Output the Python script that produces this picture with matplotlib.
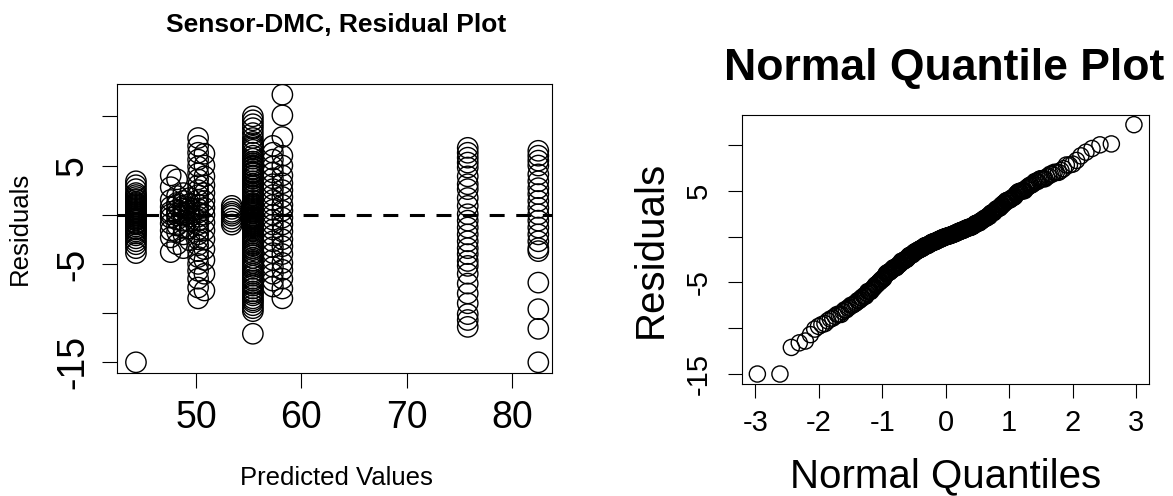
import matplotlib
matplotlib.use("Agg")
import matplotlib.pyplot as plt
import numpy as np
from statistics import NormalDist

plt.rcParams['font.family'] = ['Liberation Sans', 'DejaVu Sans']
plt.rcParams['axes.unicode_minus'] = True

# Residuals of the Sensor-DMC model, grouped by fitted (predicted) value
fit_44 = 44.3
res_44 = [3.4, 3.0, 2.6, 2.2, 2.0, 1.8, 1.6, 1.5, 1.3, 1.2, 1.1, 1.0, 0.9, 0.8,
          0.7, 0.6, 0.5, 0.4, 0.3, 0.25, 0.2, 0.1, 0.0, -0.1, -0.2, -0.3, -0.4,
          -0.5, -0.6, -0.8, -0.9, -1.0, -1.2, -1.4, -1.5, -1.7, -1.9, -2.1,
          -2.4, -2.7, -3.0, -3.4, -3.9, -15.0]
fit_47 = 47.6
res_47 = [4.0, 2.8, 1.5, 0.8, 0.3, 0.05, -0.3, -0.9, -1.6, -2.3, -3.8]
fit_48a = 48.2
res_48a = [3.6, 1.9, 1.2, 1.0, 0.5, 0.15, -0.05, -0.5, -1.1, -1.75, -3.0]
fit_48b = 48.8
res_48b = [2.2, 1.4, 0.9, 0.6, 0.2, -0.1, -0.6, -1.3, -2.0, -3.4]
fit_49 = 49.4
res_49 = [1.7, 1.1, 0.7, 0.4, 0.1, -0.2, -0.7, -1.4, -2.6]
fit_50a = 50.2
res_50a = [7.8, 7.0, 6.3, 5.6, 4.9, 4.2, 3.6, 3.0, 2.5, 2.0, 1.5, 1.0, 0.6,
           0.2, -0.2, -0.6, -1.0, -1.5, -2.0, -2.5, -3.1, -3.7, -4.3, -5.0,
           -5.7, -6.5, -7.4, -8.5]
fit_50b = 50.8
res_50b = [6.2, 5.0, 3.9, 3.0, 2.2, 1.4, 0.7, 0.0, -0.8, -1.6, -2.5, -3.5,
           -4.6, -6.0, -7.7]
fit_53 = 53.4
res_53 = [0.9, 0.6, 0.3, 0.1, -0.1, -0.4, -0.7, -1.0]
fit_55 = 55.4
res_55 = [10.0, 9.6, 9.2, 8.8, 8.3, 7.8, 7.4, 7.2, 7.0, 6.8, 6.6, 6.3, 6.0,
          5.7, 5.4, 5.2, 5.0, 4.9, 4.7, 4.6, 4.4, 4.3, 4.2, 4.0, 3.9, 3.7,
          3.4, 3.1, 2.9, 2.6, 2.4, 2.2, 2.0, 1.9, 1.7, 1.5, 1.4, 1.2, 1.1,
          1.0, 0.9, 0.8, 0.7, 0.6, 0.5, 0.4, 0.3, 0.2, 0.1, -0.05, -0.1,
          -0.2, -0.3, -0.35, -0.4, -0.5, -0.6, -0.7, -0.8, -0.9, -1.0, -1.1,
          -1.2, -1.3, -1.4, -1.55, -1.7, -1.9, -2.1, -2.3, -2.5, -2.7, -2.9,
          -3.1, -3.4, -3.6, -3.9, -4.1, -4.4, -4.7, -4.9, -5.1, -5.3, -5.5,
          -5.8, -6.0, -6.2, -6.5, -6.7, -7.0, -7.2, -7.5, -7.8, -8.0, -8.2,
          -8.5, -8.7, -8.9, -9.2, -9.5, -9.8, -12.1]
fit_57 = 57.3
res_57 = [7.0, 6.3, 5.6, 4.9, 4.3, 3.7, 3.1, 2.6, 2.0, 1.5, 1.0, 0.5, 0.0,
          -0.5, -1.0, -1.5, -2.1, -2.7, -3.3, -3.9, -4.6, -5.3, -6.0, -6.7,
          -7.3]
fit_58 = 58.2
res_58 = [12.2, 10.1, 7.9, 6.0, 5.0, 4.0, 3.2, 2.5, 1.8, 1.0, 0.4, -0.3,
          -1.0, -1.7, -2.5, -3.2, -4.0, -4.9, -5.6, -6.5, -7.5, -8.5]
fit_76 = 75.8
res_76 = [6.8, 6.3, 5.8, 5.3, 4.8, 3.9, 3.1, 2.6, 1.7, 0.9, 0.05, -0.6, -1.3,
          -2.0, -2.7, -3.4, -4.0, -4.7, -5.2, -6.0, -7.0, -8.0, -9.0, -10.1,
          -10.7, -11.4]
fit_82 = 82.5
res_82 = [6.5, 6.0, 5.5, 5.0, 4.1, 3.4, 2.7, 2.1, 1.4, 0.7, 0.05, -0.6, -1.3,
          -2.0, -2.7, -3.4, -3.7, -6.9, -9.6, -11.6, -15.0]

groups = [(fit_44, res_44), (fit_47, res_47), (fit_48a, res_48a),
          (fit_48b, res_48b), (fit_49, res_49), (fit_50a, res_50a),
          (fit_50b, res_50b), (fit_53, res_53), (fit_55, res_55),
          (fit_57, res_57), (fit_58, res_58), (fit_76, res_76),
          (fit_82, res_82)]

predicted = np.concatenate([np.full(len(r), f) for f, r in groups])
residuals = np.concatenate([np.asarray(r, float) for f, r in groups])

left_xticks = [50, 60, 70, 80]
y_ticks = [-15, -10, -5, 0, 5, 10]
y_ticklabels = ['-15', '', '-5', '', '5', '']
q_xticks = [-3, -2, -1, 0, 1, 2, 3]

W, H = 1173, 496
fig = plt.figure(figsize=(W / 100, H / 100), dpi=100)


def px_axes(l, t, r, b):
    return fig.add_axes([l / W, 1 - b / H, (r - l) / W, (b - t) / H])


def r_range(v):
    lo, hi = float(np.min(v)), float(np.max(v))
    ext = 0.04 * (hi - lo)
    return lo - ext, hi + ext


def style(ax, ticklen, width=0.8):
    for s in ax.spines.values():
        s.set_linewidth(width)
        s.set_color('black')
    ax.tick_params(direction='out', length=ticklen, width=width, color='black')


# ---------------- Residual plot ----------------
ax1 = px_axes(117, 84, 552, 373)
ax1.scatter(predicted, residuals, s=215, facecolors='none', edgecolors='black',
            linewidths=1.0, zorder=2)
ax1.axhline(0, color='black', lw=2.2, ls=(0, (4.9, 3.8)), zorder=3)
ax1.set_xlim(42.5, 83.8)
ax1.set_ylim(*r_range(residuals))
ax1.set_xticks(left_xticks)
ax1.set_xticklabels([str(v) for v in left_xticks], fontsize=27)
ax1.set_yticks(y_ticks)
ax1.set_yticklabels(y_ticklabels, fontsize=27, rotation=90, va='center')
style(ax1, 10.8)
ax1.tick_params(axis='x', pad=9)
ax1.tick_params(axis='y', pad=8)

fig.text(336 / W, 1 - 32 / H, 'Sensor-DMC, Residual Plot', ha='center',
         va='baseline', fontsize=19, fontweight='bold')
fig.text(336 / W, 1 - 485 / H, 'Predicted Values', ha='center',
         va='baseline', fontsize=18.5)
fig.text(27 / W, 1 - 228.5 / H, 'Residuals', ha='center', va='baseline',
         rotation=90, rotation_mode='anchor', fontsize=18.5)

# ---------------- Normal quantile plot ----------------
n = len(residuals)
probs = (np.arange(1, n + 1) - 0.5) / n
theo = np.array([NormalDist().inv_cdf(p) for p in probs])
sample = np.sort(residuals)

ax2 = px_axes(742.3, 114.7, 1149, 384)
ax2.scatter(theo, sample, s=135, facecolors='none', edgecolors='black',
            linewidths=1.0, zorder=2)
ax2.set_xlim(*r_range(theo))
ax2.set_ylim(*r_range(sample))
ax2.set_xticks(q_xticks)
ax2.set_xticklabels([str(v) for v in q_xticks], fontsize=21)
ax2.set_yticks(y_ticks)
ax2.set_yticklabels(y_ticklabels, fontsize=21, rotation=90, va='center')
style(ax2, 10)
ax2.tick_params(axis='x', pad=8)
ax2.tick_params(axis='y', pad=11)

fig.text(944.5 / W, 1 - 80 / H, 'Normal Quantile Plot', ha='center',
         va='baseline', fontsize=32, fontweight='bold')
fig.text(945.7 / W, 1 - 487 / H, 'Normal Quantiles', ha='center',
         va='baseline', fontsize=29)
fig.text(662 / W, 1 - 249 / H, 'Residuals', ha='center', va='baseline',
         rotation=90, rotation_mode='anchor', fontsize=29)

fig.savefig('out.png', dpi=100, facecolor='white')
